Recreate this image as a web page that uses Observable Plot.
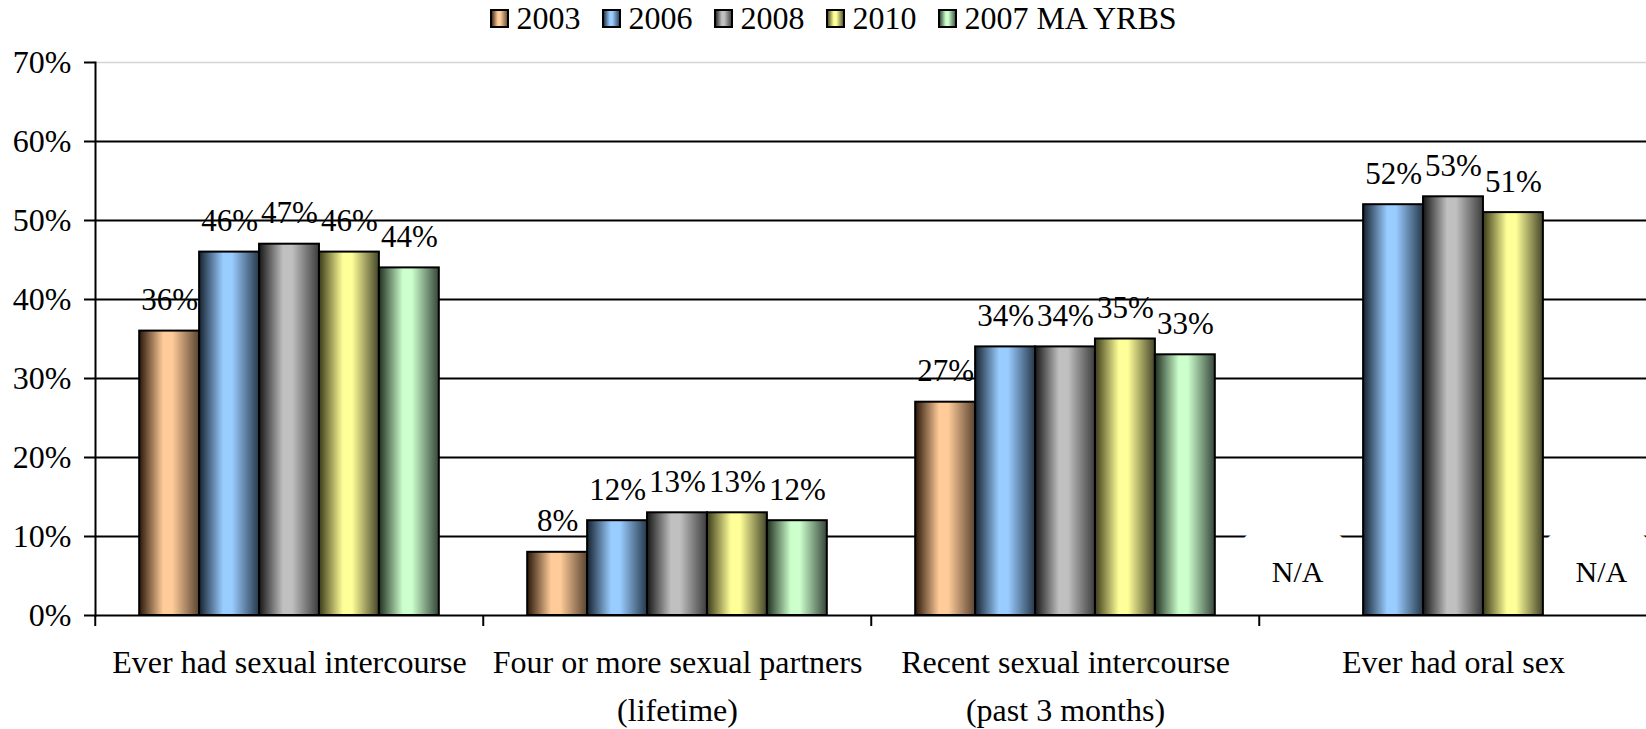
<!DOCTYPE html>
<html>
<head>
<meta charset="utf-8">
<script src="https://cdn.jsdelivr.net/npm/d3@7"></script>
<script src="https://cdn.jsdelivr.net/npm/@observablehq/plot@0.6"></script>
<style>
html, body { margin: 0; padding: 0; background: #fff; }
body { width: 1646px; height: 729px; overflow: hidden; font-family: "Liberation Serif", "Times New Roman", serif; color: #000; }
div.lg-swatches { justify-content: center; height: 36px; min-height: 36px; margin: 0; padding-left: 22px; font-family: "Liberation Serif", serif; font-size: 32px; color: #000; flex-wrap: nowrap; }
div.lg-swatches .lg-swatch { margin-right: 23px; }
div.lg-swatches .lg-swatch:last-child { margin-right: 0; }
div.lg-swatches .lg-swatch > svg { margin-right: 8px; }
div.lg-swatches .lg-swatch rect { stroke: #000; stroke-width: 2px; }
</style>
</head>
<body>
<svg width="0" height="0" style="position:absolute"><defs id="gradDefs"></defs></svg>
<div id="legend"></div>
<div id="chart"></div>
<script>
// ---- data ----
const categories = [
  "Ever had sexual intercourse",
  "Four or more sexual partners\n(lifetime)",
  "Recent sexual intercourse\n(past 3 months)",
  "Ever had oral sex"
];
const series = ["2003", "2006", "2008", "2010", "2007 MA YRBS"];
const v2003 = [36, 8, 27, null];
const v2006 = [46, 12, 34, 52];
const v2008 = [47, 13, 34, 53];
const v2010 = [46, 13, 35, 51];
const vYRBS = [44, 12, 33, null];
const yTicks = [0, 10, 20, 30, 40, 50, 60, 70];
const naLabel = "N/A";

// ---- styles (gradient colours: dark left, light, dark right) ----
const palette = [
  ["#2a1709", "#ffcc99", "#5a4431"],
  ["#15222f", "#99ccff", "#26384a"],
  ["#161616", "#c0c0c0", "#3c3c3c"],
  ["#3a3a18", "#ffff99", "#45452a"],
  ["#1f2f1f", "#ccffcc", "#36463a"]
];
const defs = d3.select("#gradDefs");
palette.forEach(([dl, light, dr], i) => {
  const g = defs.append("linearGradient").attr("id", "grad" + i)
    .attr("x1", 0).attr("x2", 1).attr("y1", 0).attr("y2", 0);
  [[0, dl], [0.4, light], [0.55, light], [1, dr]].forEach(([o, c]) =>
    g.append("stop").attr("offset", o).attr("stop-color", c));
});
const fills = series.map((_, i) => `url(#grad${i})`);

const valuesBySeries = [v2003, v2006, v2008, v2010, vYRBS];
const rows = series.flatMap((s, i) => categories.map((c, j) => ({series: s, category: c, value: valuesBySeries[i][j]})));
const present = rows.filter(d => d.value != null);
const missing = rows.filter(d => d.value == null);

const W = 1646, H = 693, ML = 94, MR = -2;
const bandHalf = (W - ML - MR) / categories.length / 2;

document.getElementById("legend").appendChild(Plot.legend({
  color: {type: "ordinal", domain: series, range: fills},
  legend: "swatches",
  swatchSize: 17,
  className: "lg"
}));

const naMarks = missing.map(d => Plot.text([d], {
  fx: "category", x: "series", text: () => naLabel,
  frameAnchor: "bottom", dy: -43, dx: d.series === series[0] ? -36 : 28,
  lineAnchor: "middle", fontSize: 30, fill: "#000",
  stroke: "#fff", strokeWidth: 76, strokeLinejoin: "round"
}));

const chart = Plot.plot({
  width: W, height: H,
  marginLeft: ML, marginRight: MR, marginTop: 26, marginBottom: 114,
  style: {fontFamily: "Liberation Serif, Times New Roman, serif", fontSize: "32px", color: "#000", background: "#fff", overflow: "visible"},
  fx: {domain: categories, padding: 0, label: null},
  x: {domain: series, paddingInner: 0, paddingOuter: 0.7375, round: false, axis: null, label: null},
  y: {domain: [0, 70], label: null},
  color: {type: "ordinal", domain: series, range: fills},
  marks: [
    Plot.ruleY(yTicks.filter(t => t > 0 && t < 70), {stroke: "#000", strokeWidth: 2}),
    Plot.ruleY([70], {stroke: "#d4d4d4", strokeWidth: 1.5}),
    ...naMarks,
    Plot.barY(present, {fx: "category", x: "series", y: "value", fill: "series", stroke: "#000", strokeWidth: 2}),
    Plot.ruleY([0], {stroke: "#000", strokeWidth: 2}),
    Plot.frame({anchor: "left", facetAnchor: "left", stroke: "#000", strokeWidth: 2}),
    Plot.axisY({ticks: yTicks, tickFormat: d => d + "%", tickSize: 11, tickPadding: 13, strokeWidth: 2, fontSize: 32, label: null}),
    Plot.axisFx({anchor: "bottom", tickSize: 11, tickFormat: null, strokeWidth: 2, dx: -bandHalf, label: null}),
    Plot.axisFx({anchor: "bottom", tickSize: 0, tickPadding: 23, fontSize: 32, lineHeight: 1.5, label: null}),
    Plot.text(present, {fx: "category", x: "series", y: "value", text: d => d.value + "%", dy: -31, lineAnchor: "middle", fontSize: 31, fill: "#000"})
  ]
});
document.getElementById("chart").appendChild(chart);
</script>
</body>
</html>
